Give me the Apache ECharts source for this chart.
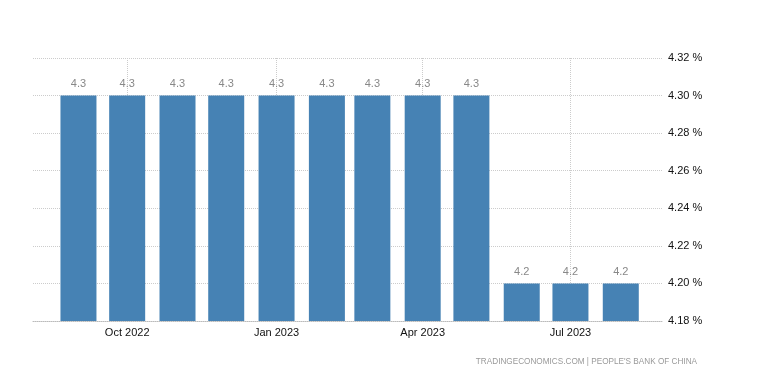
<!DOCTYPE html>
<html>
<head>
<meta charset="utf-8">
<script src="https://cdn.jsdelivr.net/npm/echarts@6/dist/echarts.min.js"></script>
<style>html,body{margin:0;padding:0;background:#fff;}#c{width:777px;height:389px;}</style>
</head>
<body>
<div id="c"></div>
<script>
const dates = ['2022-09-01','2022-10-01','2022-11-01','2022-12-01','2023-01-01','2023-02-01','2023-03-01','2023-04-01','2023-05-01','2023-06-01','2023-07-01','2023-08-01'];
const values = [4.3,4.3,4.3,4.3,4.3,4.3,4.3,4.3,4.3,4.2,4.2,4.2];
const yTicks = [4.18,4.20,4.22,4.24,4.26,4.28,4.30,4.32];
const xRange = ['2022-08-04','2023-08-27'];
const sourceText = "TRADINGECONOMICS.COM | PEOPLE'S BANK OF CHINA";

const MONTHS = ['Jan','Feb','Mar','Apr','May','Jun','Jul','Aug','Sep','Oct','Nov','Dec'];
function ts(s){ const [y,m,d] = s.split('-').map(Number); return new Date(y,m-1,d).getTime(); }

const W = 777, gridLeft = 33, gridRight = 114, barW = 36;
const axisLen = W - gridLeft - gridRight;
// ECharts widens a time axis that carries bars by the bar width; pre-shrink so the final range matches
const A = ts(xRange[0]), B = ts(xRange[1]);
const pad = (B - A) * (barW / 2) / axisLen;

const chart = echarts.init(document.getElementById('c'), null, {renderer:'canvas'});
const font = '"Liberation Sans", Arial, sans-serif';
chart.setOption({
  animation: false,
  backgroundColor: '#fff',
  grid: {left: gridLeft, right: gridRight, top: 58, bottom: 68},
  xAxis: {
    type: 'time',
    min: A + pad,
    max: B - pad,
    minInterval: 3*30.4*86400000,
    maxInterval: 3*30.6*86400000,
    axisLine: {show: true, lineStyle: {color: '#bbb', type: 'dotted'}},
    axisTick: {show: false},
    splitLine: {show: true, showMinLine: false, showMaxLine: false, lineStyle: {color: '#ccc', type: 'dotted'}},
    axisLabel: {
      color: '#111', fontFamily: font, fontSize: 11, margin: 6,
      showMinLabel: false, showMaxLabel: false,
      formatter: function (v) { const d = new Date(v); return MONTHS[d.getMonth()] + ' ' + d.getFullYear(); }
    }
  },
  yAxis: {
    type: 'value', position: 'right',
    min: yTicks[0], max: yTicks[yTicks.length-1], interval: 0.02,
    axisLine: {show: false}, axisTick: {show: false},
    splitLine: {show: true, lineStyle: {color: '#ccc', type: 'dotted'}},
    axisLabel: {color: '#111', fontFamily: font, fontSize: 11, margin: 5,
      formatter: v => v.toFixed(2) + ' %'}
  },
  series: [{
    type: 'bar',
    barWidth: barW,
    itemStyle: {color: '#4682B4'},
    label: {show: true, position: 'top', distance: 6, color: '#888', fontFamily: font, fontSize: 11,
      formatter: p => p.value[1].toFixed(1)},
    data: dates.map((d,i) => [ts(d), values[i]])
  }],
  graphic: [{
    type: 'text', right: 80, top: 358,
    style: {text: sourceText, fill: '#999', font: '8.2px ' + font}
  }]
});
</script>
</body>
</html>
